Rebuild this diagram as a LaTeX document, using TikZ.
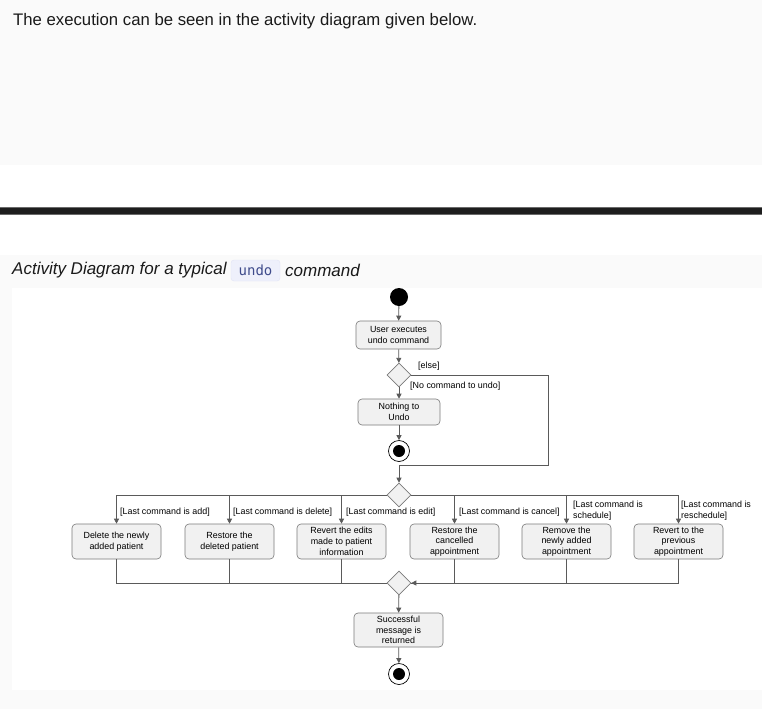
\documentclass[tikz,border=0pt]{standalone}
\usepackage{graphicx}
\usepackage{fontspec}
\setmainfont{Liberation Sans}
\newfontfamily\codefont{DejaVu Sans Mono}
\usetikzlibrary{shapes.geometric,arrows.meta}
\definecolor{pagegray}{HTML}{FAFAFA}
\definecolor{barcol}{HTML}{1E1E1E}
\definecolor{barrim}{HTML}{6A6A6A}
\definecolor{txtcol}{HTML}{1A1A1A}
\definecolor{actfill}{HTML}{F1F1F1}
\definecolor{actdraw}{HTML}{7A7A7A}
\definecolor{linecol}{HTML}{5A5A5A}
\definecolor{codebg}{HTML}{EEF0FB}
\definecolor{codedraw}{HTML}{E2E5F5}
\definecolor{codefg}{HTML}{3F4C8C}
\begin{document}
\begin{tikzpicture}[x=1pt,y=-1pt,
  act/.style={draw=actdraw, fill=actfill, rounded corners=4pt, align=center,
    font=\fontsize{8.9}{10.8}\selectfont, inner sep=1pt, line width=0.6pt},
  dec/.style={diamond, draw=actdraw, fill=actfill, minimum width=24pt,
    minimum height=24pt, inner sep=0pt, line width=0.6pt},
  flow/.style={draw=linecol, line width=0.8pt, -{Triangle[length=5pt,width=5pt]}},
  plain/.style={draw=linecol, line width=0.8pt},
  guard/.style={font=\fontsize{8.9}{10.8}\selectfont, anchor=west, inner sep=0pt, align=left},
  startst/.style={circle, fill=black, minimum size=18pt, inner sep=0pt},
  endst/.style={circle, draw=black, fill=white, line width=0.7pt, minimum size=21pt,
    inner sep=0pt, path picture={\fill[black] (path picture bounding box.center) circle (6pt);}},
]
\useasboundingbox (0,0) rectangle (762,709);
% backgrounds
\fill[pagegray] (0,0) rectangle (762,165);
\fill[white] (0,165) rectangle (762,255);
\fill[barrim] (0,206.5) rectangle (762,214.5);
\fill[barcol] (0,207.5) rectangle (762,213.5);
\fill[pagegray] (0,255) rectangle (762,709);
\fill[white] (12,288) rectangle (762,690);

% texts
\node[anchor=west, inner sep=0pt, text=txtcol] (intro) at (13,21)
  {\resizebox{464pt}{!}{The execution can be seen in the activity diagram given below.}};
\node[anchor=west, inner sep=0pt, text=txtcol, font=\fontsize{17}{19}\selectfont\itshape]
  (cap1) at (12,270.5) {Activity Diagram for a typical};
\node[draw=codedraw, fill=codebg, rounded corners=3pt, text=codefg,
  font=\fontsize{14}{16}\selectfont\codefont, minimum width=49pt, minimum height=21pt,
  inner sep=0pt] (code) at (255.5,270.5) {undo};
\node[anchor=west, inner sep=0pt, text=txtcol, font=\fontsize{17}{19}\selectfont\itshape]
  (cap2) at (285,270.5) {command};

% diagram nodes
\node[startst] (start) at (399,297) {};
\node[act, minimum width=85pt, minimum height=28pt] (user) at (398.5,335) {User executes\\undo command};
\node[dec] (d1) at (399,375) {};
\node[act, minimum width=82pt, minimum height=26pt] (nothing) at (399,412) {Nothing to\\Undo};
\node[endst] (end1) at (399,451) {};
\node[dec] (d2) at (399,495) {};
\node[act, minimum width=89pt, minimum height=35pt] (a1) at (116.5,541.5) {Delete the newly\\added patient};
\node[act, minimum width=89pt, minimum height=35pt] (a2) at (229.5,541.5) {Restore the\\deleted patient};
\node[act, minimum width=89pt, minimum height=35pt] (a3) at (341.5,541.5) {Revert the edits\\made to patient\\information};
\node[act, minimum width=89pt, minimum height=35pt] (a4) at (454.5,541.5) {Restore the\\cancelled\\appointment};
\node[act, minimum width=89pt, minimum height=35pt] (a5) at (566.5,541.5) {Remove the\\newly added\\appointment};
\node[act, minimum width=89pt, minimum height=35pt] (a6) at (678.5,541.5) {Revert to the\\previous\\appointment};
\node[dec] (d3) at (399,583) {};
\node[act, minimum width=89pt, minimum height=34pt] (succ) at (398.5,630) {Successful\\message is\\returned};
\node[endst] (end2) at (399,674) {};
\coordinate (ek) at (548,465);

% guards
\node[guard] (lelse) at (418,366) {[else]};
\node[guard] (lnone) at (410,386) {[No command to undo]};
\node[guard] (l1) at (120,512) {[Last command is add]};
\node[guard] (l2) at (233,512) {[Last command is delete]};
\node[guard] (l3) at (346,512) {[Last command is edit]};
\node[guard] (l4) at (459,512) {[Last command is cancel]};
\node[guard] (l5) at (573,510.5) {[Last command is\\schedule]};
\node[guard] (l6) at (681,510.5) {[Last command is\\reschedule]};

% connectors
\draw[flow] (start) -- (user);
\draw[flow] (user) -- (d1);
\draw[flow] (d1) -- (nothing);
\draw[flow] (nothing) -- (end1);
\draw[flow] (d1.east) -| (ek) -| (d2.north);
\draw[flow] (d2.west) -| (a1.north);
\draw[flow] (d2.west) -| (a2.north);
\draw[flow] (d2.west) -| (a3.north);
\draw[flow] (d2.east) -| (a4.north);
\draw[flow] (d2.east) -| (a5.north);
\draw[flow] (d2.east) -| (a6.north);
\draw[plain] (a1.south) |- (d3.west);
\draw[plain] (a2.south) |- (d3.west);
\draw[plain] (a3.south) |- (d3.west);
\draw[plain] (a4.south) |- (d3.east);
\draw[plain] (a5.south) |- (d3.east);
\draw[flow] (a6.south) |- (d3.east);
\draw[flow] (d3) -- (succ);
\draw[flow] (succ) -- (end2);
\end{tikzpicture}
\end{document}
